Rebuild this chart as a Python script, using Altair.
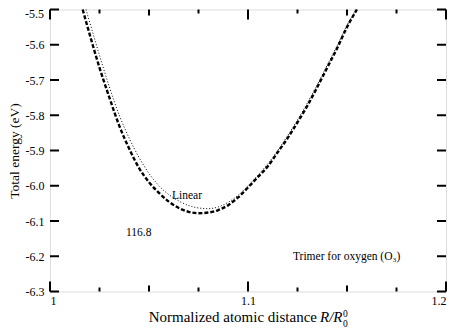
import altair as alt
import pandas as pd

# Curve data
x_dash = [1.0165, 1.020, 1.025, 1.030, 1.035, 1.040, 1.045, 1.050, 1.055, 1.060,
          1.065, 1.070, 1.075, 1.080, 1.085, 1.090, 1.095, 1.100, 1.105, 1.110,
          1.115, 1.120, 1.125, 1.130, 1.135, 1.140, 1.145, 1.150, 1.155]
y_dash = [-5.50, -5.57, -5.665, -5.75, -5.83, -5.895, -5.95, -5.99, -6.02, -6.045,
          -6.063, -6.074, -6.078, -6.076, -6.069, -6.055, -6.033, -6.005, -5.975, -5.945,
          -5.905, -5.865, -5.82, -5.773, -5.72, -5.665, -5.61, -5.55, -5.50]

x_lin = [1.0182, 1.020, 1.025, 1.030, 1.035, 1.040, 1.045, 1.050, 1.055, 1.060,
         1.065, 1.070, 1.075, 1.080, 1.085, 1.090, 1.095, 1.100, 1.105, 1.110,
         1.115, 1.120, 1.125, 1.130, 1.135, 1.140, 1.145, 1.150, 1.1545]
y_lin = [-5.50, -5.535, -5.63, -5.72, -5.80, -5.865, -5.92, -5.965, -6.0, -6.025,
         -6.043, -6.056, -6.063, -6.065, -6.06, -6.047, -6.027, -6.0, -5.97, -5.938,
         -5.9, -5.858, -5.813, -5.765, -5.713, -5.658, -5.603, -5.545, -5.50]

y_ticks = [-6.3, -6.2, -6.1, -6.0, -5.9, -5.8, -5.7, -5.6, -5.5]
x_major = [1.0, 1.1, 1.2]
x_medium = [1.05, 1.15]
x_minor = [1.025, 1.075, 1.125, 1.175]

ann_text = ["Linear", "116.8", "Trimer for oxygen (O\u2083)"]
ann_x = [1.0616, 1.0384, 1.1227]
ann_y = [-6.029, -6.134, -6.202]

W, H = 396, 282
FONT = "Liberation Serif"
LPAD = 6

xs = alt.Scale(domain=[1.0, 1.2], nice=False, zero=False)
ys = alt.Scale(domain=[-6.3, -5.5], nice=False, zero=False)

xaxis = alt.Axis(values=x_major, ticks=False, domain=False, grid=False,
                 labelExpr="datum.value == 1 ? '1' : format(datum.value, '.1f')",
                 labelFont=FONT, labelFontSize=12, labelColor="black",
                 labelPadding=4, title=None)
# top label (-5.5) is drawn separately so it stays inside the picture
yaxis = alt.Axis(values=y_ticks, ticks=False, domain=False, grid=False,
                 labelExpr="datum.value > -5.55 ? '' : replace(format(datum.value, '.1f'), '\u2212', '-')",
                 labelFont=FONT, labelFontSize=12, labelColor="black",
                 labelPadding=LPAD, title="Total energy (eV)",
                 titleFont=FONT, titleFontSize=13.5, titleFontWeight="normal",
                 titleColor="black", titlePadding=4)


def X(f):
    return alt.X(f, type="quantitative", scale=xs, axis=xaxis)


def Y(f):
    return alt.Y(f, type="quantitative", scale=ys, axis=yaxis)


dash_df = pd.DataFrame({"x": x_dash, "y": y_dash})
lin_df = pd.DataFrame({"x": x_lin, "y": y_lin})

dashed = alt.Chart(dash_df).mark_line(
    color="black", strokeWidth=2.4, strokeDash=[4, 2], interpolate="monotone"
).encode(x=X("x"), y=Y("y"))

linear = alt.Chart(lin_df).mark_line(
    color="black", strokeWidth=1, strokeDash=[1, 2], interpolate="monotone"
).encode(x=X("x"), y=Y("y"))

ytick_df = pd.DataFrame({"v": y_ticks})
ytl = alt.Chart(ytick_df).mark_rule(color="black", strokeWidth=2).encode(
    y=Y("v"), x=alt.value(0), x2=alt.value(9))
ytr = alt.Chart(ytick_df).mark_rule(color="black", strokeWidth=2).encode(
    y=Y("v"), x=alt.value(W), x2=alt.value(W - 9))

top_lab = alt.Chart(pd.DataFrame({"t": ["%.1f" % y_ticks[-1]]})).mark_text(
    align="right", baseline="top", font=FONT, fontSize=12, color="black", dy=-1
).encode(x=alt.value(-LPAD), y=alt.value(0), text="t:N")


def xticks(vals, length):
    d = pd.DataFrame({"v": vals})
    b = alt.Chart(d).mark_rule(color="black", strokeWidth=2).encode(
        x=X("v"), y=alt.value(H), y2=alt.value(H - length))
    t = alt.Chart(d).mark_rule(color="black", strokeWidth=2).encode(
        x=X("v"), y=alt.value(0), y2=alt.value(length))
    return b + t


ticks = xticks(x_major, 10) + xticks(x_medium, 6) + xticks(x_minor, 4)

ann_df = pd.DataFrame({"t": ann_text, "x": ann_x, "y": ann_y})
ann = alt.Chart(ann_df).mark_text(
    align="left", baseline="middle", font=FONT, fontSize=11.5, color="black"
).encode(x=X("x"), y=Y("y"), text="t:N")

# x-axis title built from parts (italic R/R with stacked 0 sub/superscript)
TY = 312
title_main = alt.Chart(pd.DataFrame({"t": ["Normalized atomic distance"]})).mark_text(
    align="right", baseline="alphabetic", font=FONT, fontSize=15, color="black"
).encode(x=alt.value(267), y=alt.value(TY), text="t:N")
title_r = alt.Chart(pd.DataFrame({"t": ["R/R"]})).mark_text(
    align="left", baseline="alphabetic", font=FONT, fontSize=15, fontStyle="italic",
    color="black"
).encode(x=alt.value(270), y=alt.value(TY), text="t:N")
title_sup = alt.Chart(pd.DataFrame({"t": ["0"]})).mark_text(
    align="left", baseline="alphabetic", font=FONT, fontSize=9.5, color="black"
).encode(x=alt.value(293), y=alt.value(TY - 5), text="t:N")
title_sub = alt.Chart(pd.DataFrame({"t": ["0"]})).mark_text(
    align="left", baseline="alphabetic", font=FONT, fontSize=9.5, color="black"
).encode(x=alt.value(293), y=alt.value(TY + 5), text="t:N")

chart = alt.layer(
    dashed, linear, ytl, ytr, ticks, top_lab, ann,
    title_main, title_r, title_sup, title_sub
).properties(
    width=W, height=H,
    autosize=alt.AutoSizeParams(type="none"),
    padding={"left": 42, "top": 1.5, "right": 3, "bottom": 40},
).configure_view(stroke="black", strokeWidth=2).configure(background="white")

chart.save("out.html", embed_options={"renderer": "svg", "actions": False})
